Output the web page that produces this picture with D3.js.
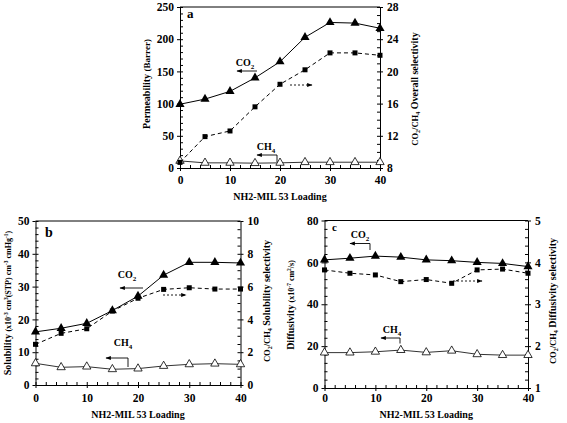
<!DOCTYPE html>
<html><head><meta charset="utf-8">
<script src="https://cdn.jsdelivr.net/npm/d3@7"></script>
<style>
body{margin:0;background:#fff;}
svg{display:block;font-family:"Liberation Serif","Times New Roman",serif;}
</style></head>
<body>
<svg id="chart" width="567" height="423"></svg>
<script>
// ---------- data ----------
const loading = [0, 5, 10, 15, 20, 25, 30, 35, 40];
const xTicks = [0, 10, 20, 30, 40];
// panel a
const permCO2 = [99, 107, 119, 140, 165, 203, 226, 225, 217];
const permCH4 = [11, 8, 8, 7.5, 8, 9, 9, 9, 9];
const overallSel = [8.7, 11.9, 12.6, 15.6, 18.4, 20.2, 22.3, 22.3, 22.0];
const permTicks = [0, 50, 100, 150, 200, 250];
const overallTicks = [8, 12, 16, 20, 24, 28];
// panel b
const solCO2 = [16.2, 17.3, 18.8, 22.7, 27.1, 33.5, 37.4, 37.4, 37.2];
const solCH4 = [6.6, 5.4, 5.6, 4.8, 5.0, 5.8, 6.3, 6.5, 6.3];
const solSel = [2.48, 3.15, 3.43, 4.51, 5.29, 5.83, 5.93, 5.85, 5.85];
const solTicks = [0, 10, 20, 30, 40, 50];
const solSelTicks = [0, 2, 4, 6, 8, 10];
// panel c
const diffCO2 = [61.2, 62, 63, 62.5, 61.2, 60.8, 60, 59.5, 58];
const diffCH4 = [16.9, 16.9, 17.3, 18.1, 17.0, 17.8, 16.1, 15.7, 15.7];
const diffSel = [3.82, 3.74, 3.70, 3.54, 3.59, 3.50, 3.82, 3.84, 3.74];
const diffTicks = [0, 20, 40, 60, 80];
const diffSelTicks = [1, 2, 3, 4, 5];

const svg = d3.select("#chart");
const defs = svg.append("defs");
defs.append("marker").attr("id","ah").attr("viewBox","0 0 10 10").attr("refX",9).attr("refY",5)
  .attr("markerWidth",6).attr("markerHeight",6).attr("orient","auto-start-reverse")
  .append("path").attr("d","M0,1.5L10,5L0,8.5Z").attr("fill","#000");

function panel(o) {
  const g = svg.append("g");
  const x = d3.scaleLinear().domain([0, 40]).range([o.x0, o.x1]);
  const yL = d3.scaleLinear().domain(o.lDom).range([o.y1, o.y0]);
  const yR = d3.scaleLinear().domain(o.rDom).range([o.y1, o.y0]);

  g.append("line").attr("x1", o.x0).attr("x2", o.x1).attr("y1", o.y0).attr("y2", o.y0)
    .attr("stroke", "#000").attr("stroke-width", 1);

  const fmt = d => d;
  g.append("g").attr("transform", `translate(0,${o.y1})`)
    .call(d3.axisBottom(x).tickValues(d3.range(0, 41, 2)).tickSize(-3).tickFormat(""))
    .call(s => s.select(".domain").remove());
  g.append("g").attr("class","maj").attr("transform", `translate(0,${o.y1})`)
    .call(d3.axisBottom(x).tickValues(xTicks).tickSizeInner(3).tickSizeOuter(0).tickPadding(5).tickFormat(fmt))
    .call(s => s.selectAll("text").attr("dy", null).attr("y", o.tickY - o.y1));
  g.append("g").attr("transform", `translate(${o.x0},0)`)
    .call(d3.axisLeft(yL).tickValues(d3.range(o.lDom[0], o.lDom[1] + 1e-9, o.lMinor)).tickSize(-3).tickFormat(""))
    .call(s => s.select(".domain").remove());
  g.append("g").attr("class","maj").attr("transform", `translate(${o.x0},0)`)
    .call(d3.axisLeft(yL).tickValues(o.lTicks).tickSizeInner(3).tickSizeOuter(0).tickPadding(3).tickFormat(fmt));
  g.append("g").attr("transform", `translate(${o.x1},0)`)
    .call(d3.axisRight(yR).tickValues(d3.range(o.rDom[0], o.rDom[1] + 1e-9, o.rMinor)).tickSize(-3).tickFormat(""))
    .call(s => s.select(".domain").remove());
  g.append("g").attr("class","maj").attr("transform", `translate(${o.x1},0)`)
    .call(d3.axisRight(yR).tickValues(o.rTicks).tickSizeInner(3).tickSizeOuter(0).tickPadding(4).tickFormat(fmt));

  g.selectAll(".maj text").attr("font-size", 11.5).attr("font-weight", "bold")
    .attr("font-family", '"Liberation Serif",serif').attr("fill", "#000");
  g.selectAll(".domain,.tick line").attr("stroke", "#000");

  const lineL = d3.line().x((d, i) => x(loading[i])).y(d => yL(d));
  const lineR = d3.line().x((d, i) => x(loading[i])).y(d => yR(d));
  g.append("path").attr("d", lineL(o.ch4)).attr("fill", "none").attr("stroke", "#333").attr("stroke-width", 1);
  g.append("path").attr("d", lineR(o.sel)).attr("fill", "none").attr("stroke", "#000").attr("stroke-width", 1).attr("stroke-dasharray", "4,3");
  g.append("path").attr("d", lineL(o.co2)).attr("fill", "none").attr("stroke", "#000").attr("stroke-width", 1);

  const sq = d3.symbol().type(d3.symbolSquare).size(25);
  g.selectAll(".ch4").data(o.ch4).join("path")
    .attr("d", d3.symbol().type(d3.symbolTriangle).size(30)()).attr("transform", (d, i) => `translate(${x(loading[i])},${yL(d)})`)
    .attr("fill", "#fff").attr("stroke", "#000").attr("stroke-width", 0.8);
  g.selectAll(".sel").data(o.sel).join("path")
    .attr("d", sq()).attr("transform", (d, i) => `translate(${x(loading[i])},${yR(d)})`).attr("fill", "#000");
  g.selectAll(".co2").data(o.co2).join("path")
    .attr("d", d3.symbol().type(d3.symbolTriangle).size(36)()).attr("transform", (d, i) => `translate(${x(loading[i])},${yL(d)})`)
    .attr("fill", "#000");

  g.append("text").attr("x", o.letter[0]).attr("y", o.letter[1]).attr("font-size", o.letter[2])
    .attr("font-weight", "bold").text(o.letter[3]);

  g.append("text").attr("x", (o.x0 + o.x1) / 2).attr("y", o.titleY).attr("text-anchor", "middle")
    .attr("font-size", 10).attr("font-weight", "bold").text("NH2-MIL 53 Loading");

  const lt = g.append("text").attr("transform", `translate(${o.lt[0]},${o.lt[1]}) rotate(-90)`)
    .attr("text-anchor", "middle").attr("font-weight", "bold").attr("font-size", 10);
  o.ltParts.forEach(p => {
    const t = lt.append("tspan").attr("font-size", p[1]).text(p[0]);
    if (p[2]) t.attr("dy", p[2]);
  });
  const rt = g.append("text").attr("transform", `translate(${o.rt[0]},${o.rt[1]}) rotate(-90)`)
    .attr("text-anchor", "middle").attr("font-weight", "bold").attr("font-size", 10);
  const rparts = [["CO", 8.5], ["2", 6, 2], ["/CH", 8.5, -2], ["4", 6, 2], [" " + o.rtName, 10, -2]];
  rparts.forEach(p => {
    const t = rt.append("tspan").attr("font-size", p[1]).text(p[0]);
    if (p[2]) t.attr("dy", p[2]);
  });

  function gas(pos, sub) {
    const t = g.append("text").attr("x", pos[0]).attr("y", pos[1]).attr("font-size", 10).attr("font-weight", "bold").attr("text-anchor", "middle");
    t.append("tspan").text(sub === "2" ? "CO" : "CH");
    t.append("tspan").attr("font-size", 7).attr("dy", 2.5).text(sub);
  }
  gas(o.co2Lab, "2");
  gas(o.ch4Lab, "4");
  o.arrows.forEach(a => {
    const p = g.append("path").attr("d", a.d).attr("fill", "none").attr("stroke", "#000").attr("stroke-width", 0.9)
      .attr("marker-end", "url(#ah)");
    if (a.dash) p.attr("stroke-dasharray", "2,2");
  });
}

panel({
  x0: 180, x1: 380, y0: 7, y1: 168,
  lDom: [0, 250], rDom: [8, 28], lTicks: permTicks, rTicks: overallTicks, lMinor: 10, rMinor: 1,
  co2: permCO2, ch4: permCH4, sel: overallSel,
  tickY: 184, titleY: 200,
  letter: [187, 18, 13, "a"],
  lt: [150, 84], ltParts: [["Permeability ", 10], ["(Barrer)", 9]],
  rt: [418, 89], rtName: "Overall selectivity",
  co2Lab: [245, 66], ch4Lab: [266, 150],
  arrows: [
    { d: "M257,71L237,71" },
    { d: "M290,85L312,85", dash: true },
    { d: "M277,162L277,155L257,155" }
  ]
});

panel({
  x0: 35.5, x1: 240.5, y0: 221, y1: 385,
  lDom: [0, 50], rDom: [0, 10], lTicks: solTicks, rTicks: solSelTicks, lMinor: 2, rMinor: 0.5,
  co2: solCO2, ch4: solCH4, sel: solSel,
  tickY: 402, titleY: 418,
  letter: [45, 237, 14, "b"],
  lt: [11, 303], ltParts: [["Solubility ", 10], ["(x10", 8], ["-3", 5.5, -3], [" cm", 8, 3], ["3", 5.5, -3], ["(STP) cm", 8, 3], ["-3", 5.5, -3], [" cmHg", 8, 3], ["-1", 5.5, -3], [")", 8, 3]],
  rt: [270, 301], rtName: "Solubility selectivity",
  co2Lab: [127, 278], ch4Lab: [123, 346],
  arrows: [
    { d: "M143,288L120,288" },
    { d: "M163,295L186,295", dash: true },
    { d: "M128,367L128,358L106,358" }
  ]
});

panel({
  x0: 324.5, x1: 528, y0: 220.5, y1: 388,
  lDom: [0, 80], rDom: [1, 5], lTicks: diffTicks, rTicks: diffSelTicks, lMinor: 4, rMinor: 0.2,
  co2: diffCO2, ch4: diffCH4, sel: diffSel,
  tickY: 402, titleY: 418,
  letter: [332, 231, 11, "c"],
  lt: [293.5, 305], ltParts: [["Diffusivity ", 10], ["(x10", 8], ["-7", 5.5, -3], [" cm", 8, 3], ["2", 5.5, -3], ["/s)", 8, 3]],
  rt: [556, 301], rtName: "Diffusivity selectivity",
  co2Lab: [360, 238], ch4Lab: [392, 333],
  arrows: [
    { d: "M370,250L370,243.5L350,243.5" },
    { d: "M453,281L482,281", dash: true },
    { d: "M400,343.5L400,338L381,338" }
  ]
});
</script>
</body></html>
